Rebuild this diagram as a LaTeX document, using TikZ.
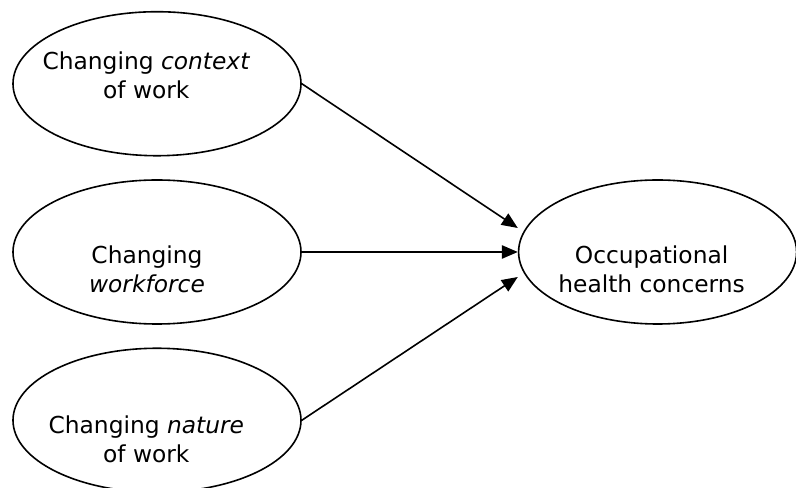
\documentclass[tikz,border=0pt]{standalone}
\usepackage{fontspec}
\setmainfont{DejaVu Sans}
\usetikzlibrary{shapes.geometric,arrows.meta,positioning,calc}

\begin{document}
\begin{tikzpicture}[>={Triangle[length=12pt,width=10pt]}, line width=1.2pt,
    node distance=17pt and 162pt,
    bubble/.style={ellipse,draw,inner sep=0pt,minimum width=216pt,minimum height=108pt},
    txt/.style={align=center,font=\fontsize{17.5}{21.75}\selectfont}]
  \useasboundingbox (-117.75pt,-177pt) rectangle (479.25pt,189pt);
  \node[bubble,label={[txt,xshift=-7.5pt,yshift=-12.75pt]center:Changing\\\textit{workforce}}] (work) {};
  \node[bubble,above=of work,label={[txt,xshift=-8pt,yshift=6pt]center:Changing \textit{context}\\of work}] (ctx) {};
  \node[bubble,below=of work,label={[txt,xshift=-8pt,yshift=-14pt]center:Changing \textit{nature}\\of work}] (nat) {};
  \node[bubble,minimum width=208.5pt,right=of work,label={[txt,xshift=-4.5pt,yshift=-12.75pt]center:Occupational\\health concerns}] (occ) {};
  \coordinate (occ_top) at ($(occ.west)+(0,18pt)$);
  \coordinate (occ_bot) at ($(occ.west)+(0,-18.75pt)$);
  \draw[->] (ctx.east) -- (occ_top);
  \draw[->] (work.east) -- (occ.west);
  \draw[->] (nat.east) -- (occ_bot);
\end{tikzpicture}
\end{document}
